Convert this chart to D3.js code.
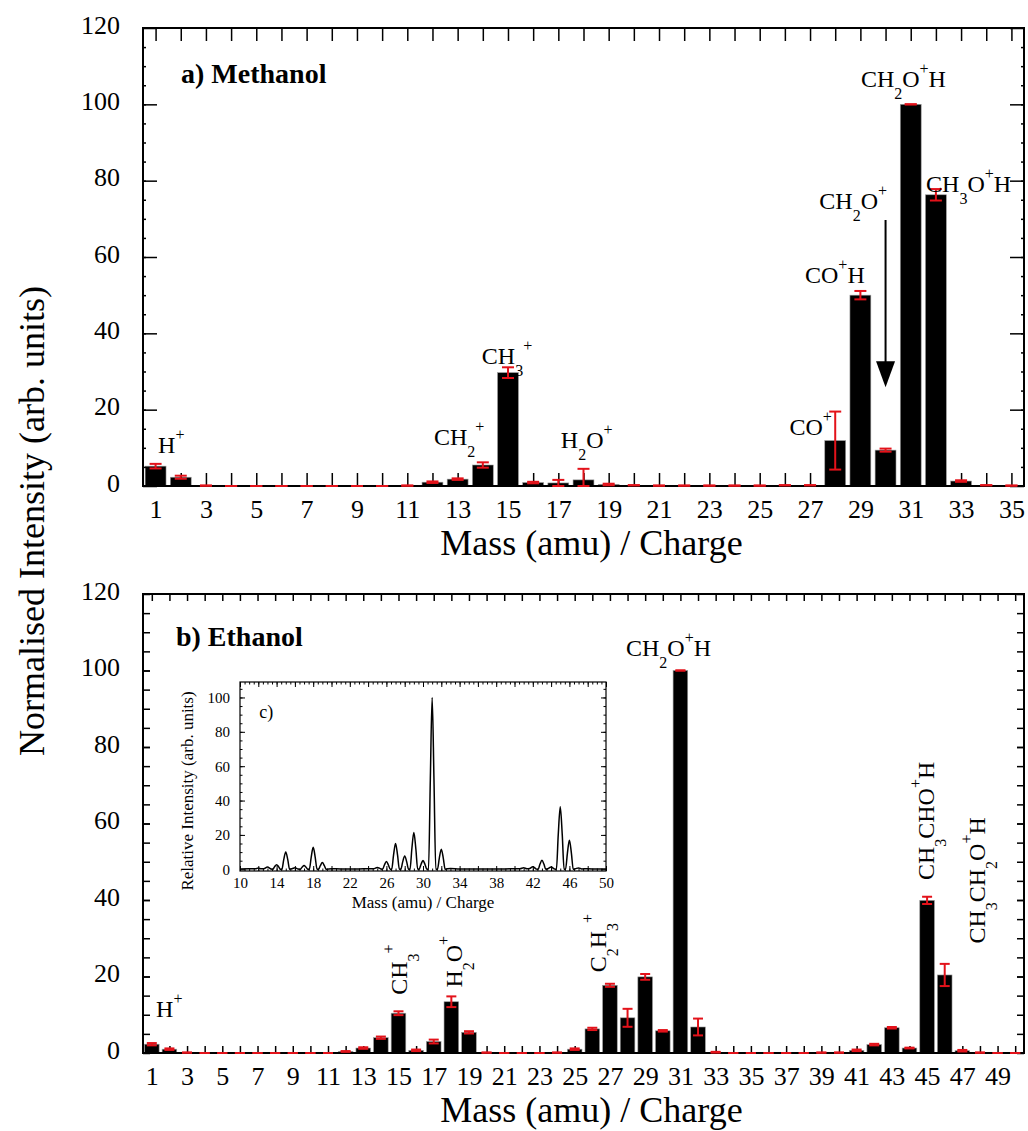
<!DOCTYPE html>
<html>
<head>
<meta charset="utf-8">
<script src="https://cdn.jsdelivr.net/npm/d3@7"></script>
<style>
  body { margin: 0; background: #fff; }
  svg { display: block; }
  text { font-family: "Liberation Serif", "Times New Roman", serif; fill: #000; }
</style>
</head>
<body>
<svg id="chart" width="1028" height="1131"></svg>
<script>
// ---- data ----
var methMass = d3.range(1, 36);
var methIntensity = [5.2, 2.3, 0.1, 0, 0, 0, 0, 0, 0, 0, 0.1, 1.0, 1.8, 5.5, 29.7, 0.9, 0.8, 1.6, 0.4, 0.2,
                     0.1, 0.1, 0.1, 0.1, 0.1, 0.2, 0.2, 11.9, 50.0, 9.4, 100, 76.3, 1.3, 0.2, 0.1];
var methError     = [0.6, 0.4, 0, 0, 0, 0, 0, 0, 0, 0, 0, 0.2, 0.2, 0.7, 1.4, 0.2, 0.8, 2.9, 0.2, 0,
                     0, 0, 0, 0, 0, 0, 0, 7.6, 1.1, 0.4, 0, 1.5, 0.2, 0, 0];

var ethMass = d3.range(1, 51);
var ethIntensity = [2.3, 1.0, 0.1, 0, 0, 0, 0, 0, 0, 0, 0, 0.4, 1.3, 4.0, 10.4, 0.7, 3.0, 13.4, 5.4, 0.1,
                    0, 0, 0, 0.1, 1.0, 6.3, 17.7, 9.2, 19.9, 5.8, 100, 6.8, 0.2, 0, 0, 0, 0, 0, 0.1, 0.1,
                    0.7, 2.2, 6.6, 1.3, 39.9, 20.4, 0.6, 0.1, 0, 0];
var ethError     = [0.3, 0.2, 0, 0, 0, 0, 0, 0, 0, 0, 0, 0.1, 0.2, 0.3, 0.5, 0.2, 0.5, 1.4, 0.3, 0,
                    0, 0, 0, 0, 0.2, 0.3, 0.4, 2.35, 0.75, 0.2, 0, 2.2, 0.1, 0, 0, 0, 0, 0, 0, 0,
                    0.2, 0.2, 0.2, 0.1, 0.95, 2.9, 0.2, 0, 0, 0];

// inset c): raw spectrum trace [mass, relative intensity]
var insetSpectrum = [
  [10,0.2],[11,0.3],[11.7,0.3],[12,0.8],[12.3,0.3],[12.6,0.3],[13,1.3],[13.4,0.2],
  [13.58,0],[13.78,1.5],[14,2.7],[14.22,1.5],[14.42,0],
  [14.58,0],[14.78,5.6],[15,10.1],[15.22,5.6],[15.42,0],
  [15.7,0.3],[16,0.9],[16.35,0.1],
  [16.58,0],[16.78,1.2],[17,2.2],[17.22,1.2],[17.42,0],
  [17.58,0],[17.78,7],[18,12.8],[18.22,7],[18.42,0],
  [18.58,0],[18.78,2.1],[19,3.9],[19.22,2.1],[19.42,0],
  [20,0.3],[21,0.2],[22,0.2],[23,0.2],[24,0.3],
  [24.6,0.3],[25,1.1],[25.4,0.2],
  [25.58,0],[25.78,2.5],[26,4.5],[26.22,2.5],[26.42,0],
  [26.58,0],[26.78,8.2],[27,15],[27.22,8.2],[27.42,0],
  [27.58,0],[27.78,4.3],[28,7.8],[28.22,4.3],[28.42,0],
  [28.58,0],[28.78,11.8],[29,21.4],[29.22,11.8],[29.42,0],
  [29.58,0],[29.78,2.8],[30,5.1],[30.22,2.8],[30.42,0],
  [30.6,0],[30.8,52],[31,100],[31.2,52],[31.4,0],
  [31.58,0],[31.78,6.4],[32,11.7],[32.22,6.4],[32.42,0],
  [33,0.5],[34,0.2],[35,0.2],[36,0.1],[37,0.2],[38,0.2],[39,0.2],[40,0.3],
  [40.6,0.3],[41,0.9],[41.35,0.3],[41.65,0.4],[42,1.5],[42.4,0.1],
  [42.58,0],[42.78,2.9],[43,5.3],[43.22,2.9],[43.42,0],
  [43.65,0.3],[44,1.3],[44.4,0.1],
  [44.58,0],[44.78,20],[45,36.4],[45.22,20],[45.42,0],
  [45.58,0],[45.78,9.3],[46,16.9],[46.22,9.3],[46.42,0],
  [46.65,0.3],[47,0.8],[47.35,0.2],[48,0.3],[49,0.1],[50,0.1]
];

// ion labels: "_x" = subscript, "^x" = superscript; m/v = text anchor in data units
var methLabels = [
  {t: "H^+",      m: 1.1,   v: 8.6,   rot: 0},
  {t: "CH_2^+",   m: 12.06, v: 10.7,  rot: 0},
  {t: "CH_3^+",   m: 13.96, v: 32.0,  rot: 0},
  {t: "H_2O^+",   m: 17.1,  v: 10.0,  rot: 0},
  {t: "CO^+",     m: 26.18, v: 13.4,  rot: 0},
  {t: "CO^+H",    m: 26.8,  v: 53.3,  rot: 0},
  {t: "CH_2O^+",  m: 27.37, v: 72.5,  rot: 0},
  {t: "CH_2O^+H", m: 29.02, v: 104.5, rot: 0},
  {t: "CH_3O^+H", m: 31.61, v: 77.1,  rot: 0}
];
var methArrow = {m: 30, from: 69.7, to: 25.9};

var ethLabels = [
  {t: "H^+",          m: 1.24,  v: 9.5,   rot: 0},
  {t: "CH_3^+",       m: 15.47, v: 15.2,  rot: -90},
  {t: "H_2O^+",       m: 18.59, v: 17.1,  rot: -90},
  {t: "C_2H_3^+",     m: 26.76, v: 21.1,  rot: -90},
  {t: "CH_2O^+H",     m: 27.91, v: 103.9, rot: 0},
  {t: "CH_3CHO^+H",   m: 45.41, v: 45.2,  rot: -90},
  {t: "CH_3CH_2O^+H", m: 48.29, v: 28.6,  rot: -90}
];

var yTickValues = [0, 20, 40, 60, 80, 100, 120];

var svg = d3.select("#chart");
var RED = "#e3121a";

function drawLabel(g, x, y, str, rot) {
  var text = g.append("text")
    .attr("transform", "translate(" + x + "," + y + ") rotate(" + rot + ")")
    .style("font-size", "24px");
  var shift = 0, i = 0;
  while (i < str.length) {
    var kind = "n", s;
    if (str[i] == "_" || str[i] == "^") {
      kind = str[i];
      s = str[i + 1];
      i += 2;
    } else {
      s = "";
      while (i < str.length && str[i] != "_" && str[i] != "^") { s += str[i]; i++; }
    }
    var target = kind == "_" ? 12 : kind == "^" ? -13 : 0;
    var ts = text.append("tspan").attr("dy", target - shift).text(s);
    if (kind != "n") ts.style("font-size", "16px");
    shift = target;
  }
}

function styleAxis(sel, fontSize, width) {
  sel.select(".domain").remove();
  sel.selectAll(".tick line").attr("stroke", "#000").attr("stroke-width", width);
  sel.selectAll(".tick text").style("font-size", fontSize + "px")
    .style("font-family", '"Liberation Serif", "Times New Roman", serif');
}

function drawPanel(p) {
  var g = svg.append("g");
  var x = d3.scaleLinear().domain([0.5, p.mass.length + 0.5]).range([p.left, p.right]);
  var y = d3.scaleLinear().domain([0, 120]).range([p.bottom, p.top]);
  var bw = (x(2) - x(1)) * 0.83;

  // bars
  g.selectAll("rect.bar").data(p.mass).join("rect")
    .attr("class", "bar")
    .attr("x", function(d) { return x(d) - bw / 2; })
    .attr("y", function(d, i) { return y(p.values[i]); })
    .attr("width", bw)
    .attr("height", function(d, i) { return y(0) - y(p.values[i]); })
    .attr("fill", "#000")
    .attr("stroke", function(d, i) { return p.values[i] > 0.3 ? "#9a9a9a" : "none"; })
    .attr("stroke-width", 0.6);

  // axes (ticks point inward)
  var gx = g.append("g").attr("transform", "translate(0," + p.bottom + ")")
    .call(d3.axisBottom(x).tickValues(p.mass).tickSize(-p.xTick).tickPadding(14)
      .tickFormat(function(d) { return d % 2 ? d : ""; }));
  styleAxis(gx, 26, 1.5);
  var gxt = g.append("g").attr("transform", "translate(0," + p.top + ")")
    .call(d3.axisTop(x).tickValues(p.mass).tickSize(-p.xTick).tickFormat(""));
  styleAxis(gxt, 26, 1.5);

  var gyl = g.append("g").attr("transform", "translate(" + p.left + ",0)")
    .call(d3.axisLeft(y).tickValues(yTickValues).tickSize(-p.yMajor).tickPadding(23));
  styleAxis(gyl, 26, 1.5);
  gyl.selectAll(".tick text").attr("dy", "0.2em");
  var gylm = g.append("g").attr("transform", "translate(" + p.left + ",0)")
    .call(d3.axisLeft(y).tickValues(d3.range(5, 120, 5)).tickSize(-p.yMinor).tickFormat(""));
  styleAxis(gylm, 26, 1.5);
  var gyr = g.append("g").attr("transform", "translate(" + p.right + ",0)")
    .call(d3.axisRight(y).tickValues(yTickValues).tickSize(-p.yMajor).tickFormat(""));
  styleAxis(gyr, 26, 1.5);
  var gyrm = g.append("g").attr("transform", "translate(" + p.right + ",0)")
    .call(d3.axisRight(y).tickValues(d3.range(5, 120, 5)).tickSize(-p.yMinor).tickFormat(""));
  styleAxis(gyrm, 26, 1.5);

  g.append("rect")
    .attr("x", p.left).attr("y", p.top)
    .attr("width", p.right - p.left).attr("height", p.bottom - p.top)
    .attr("fill", "none").attr("stroke", "#000").attr("stroke-width", 2);

  // error bars
  var cap = p.cap;
  var eg = g.append("g").attr("stroke", RED).attr("stroke-width", 2);
  p.mass.forEach(function(m, i) {
    var v = p.values[i], e = p.errors[i];
    var lo = y(Math.max(0, v - e)), hi = y(v + e);
    if (e > 0) eg.append("line").attr("x1", x(m)).attr("x2", x(m)).attr("y1", lo).attr("y2", hi);
    eg.append("line").attr("x1", x(m) - cap / 2).attr("x2", x(m) + cap / 2).attr("y1", hi).attr("y2", hi);
    eg.append("line").attr("x1", x(m) - cap / 2).attr("x2", x(m) + cap / 2).attr("y1", lo).attr("y2", lo);
  });

  // titles
  g.append("text")
    .attr("x", (p.left + p.right) / 2 + 8).attr("y", p.titleY)
    .attr("text-anchor", "middle").style("font-size", "36px")
    .text("Mass (amu) / Charge");
  g.append("text")
    .attr("x", x(p.name.m)).attr("y", y(p.name.v))
    .style("font-size", "28px").style("font-weight", "bold")
    .text(p.name.t);

  p.labels.forEach(function(l) { drawLabel(g, x(l.m), y(l.v), l.t, l.rot); });

  return {x: x, y: y, g: g};
}

// ---- panel a) ----
var panelA = drawPanel({
  mass: methMass, values: methIntensity, errors: methError, labels: methLabels,
  name: {t: "a) Methanol", m: 2.01, v: 105.6},
  left: 143, right: 1024, top: 28, bottom: 486,
  xTick: 13, yMajor: 14, yMinor: 3, cap: 12, titleY: 555
});
var ax = panelA.x(methArrow.m), ay0 = panelA.y(methArrow.from), ay1 = panelA.y(methArrow.to);
panelA.g.append("line").attr("x1", ax).attr("x2", ax).attr("y1", ay0).attr("y2", ay1 - 24)
  .attr("stroke", "#000").attr("stroke-width", 2);
panelA.g.append("path")
  .attr("d", "M" + (ax - 9.5) + "," + (ay1 - 26) + "L" + (ax + 9.5) + "," + (ay1 - 26) + "L" + ax + "," + ay1 + "Z")
  .attr("fill", "#000");

// ---- panel b) ----
var panelB = drawPanel({
  mass: ethMass, values: ethIntensity, errors: ethError, labels: ethLabels,
  name: {t: "b) Ethanol", m: 2.37, v: 106.4},
  left: 143, right: 1024, top: 594, bottom: 1053,
  xTick: 7, yMajor: 7, yMinor: 7, cap: 10, titleY: 1122
});

// ---- inset c) ----
var inL = 240, inR = 606, inT = 682, inB = 871;
var ix = d3.scaleLinear().domain([10, 50]).range([inL, inR]);
var iy = d3.scaleLinear().domain([-1, 109]).range([inB, inT]);
var ig = svg.append("g");
ig.append("rect").attr("x", inL).attr("y", inT).attr("width", inR - inL).attr("height", inB - inT).attr("fill", "#fff");

var ixb = ig.append("g").attr("transform", "translate(0," + inB + ")")
  .call(d3.axisBottom(ix).tickValues(d3.range(10, 51, 2)).tickSize(-5).tickPadding(6)
    .tickFormat(function(d) { return (d - 10) % 4 == 0 ? d : ""; }));
styleAxis(ixb, 15, 1);
styleAxis(ig.append("g").attr("transform", "translate(0," + inB + ")")
  .call(d3.axisBottom(ix).tickValues(d3.range(10, 50.5, 0.5)).tickSize(-2.5).tickFormat("")), 15, 1);
styleAxis(ig.append("g").attr("transform", "translate(0," + inT + ")")
  .call(d3.axisTop(ix).tickValues(d3.range(10, 51, 2)).tickSize(-5).tickFormat("")), 15, 1);
styleAxis(ig.append("g").attr("transform", "translate(0," + inT + ")")
  .call(d3.axisTop(ix).tickValues(d3.range(10, 50.5, 0.5)).tickSize(-2.5).tickFormat("")), 15, 1);
var iyl = ig.append("g").attr("transform", "translate(" + inL + ",0)")
  .call(d3.axisLeft(iy).tickValues([0, 20, 40, 60, 80, 100]).tickSize(-5).tickPadding(10));
styleAxis(iyl, 15, 1);
styleAxis(ig.append("g").attr("transform", "translate(" + inL + ",0)")
  .call(d3.axisLeft(iy).tickValues(d3.range(5, 106, 5)).tickSize(-2.5).tickFormat("")), 15, 1);
styleAxis(ig.append("g").attr("transform", "translate(" + inR + ",0)")
  .call(d3.axisRight(iy).tickValues([0, 20, 40, 60, 80, 100]).tickSize(-5).tickFormat("")), 15, 1);
styleAxis(ig.append("g").attr("transform", "translate(" + inR + ",0)")
  .call(d3.axisRight(iy).tickValues(d3.range(5, 106, 5)).tickSize(-2.5).tickFormat("")), 15, 1);

ig.append("path")
  .datum(insetSpectrum)
  .attr("d", d3.line().x(function(d) { return ix(d[0]); }).y(function(d) { return iy(d[1]); }).curve(d3.curveMonotoneX))
  .attr("fill", "none").attr("stroke", "#000").attr("stroke-width", 1.5);

ig.append("rect").attr("x", inL).attr("y", inT).attr("width", inR - inL).attr("height", inB - inT)
  .attr("fill", "none").attr("stroke", "#000").attr("stroke-width", 1.2);

ig.append("text").attr("x", ix(12.1)).attr("y", iy(88)).style("font-size", "18px").text("c)");
ig.append("text").attr("x", (inL + inR) / 2).attr("y", 908).attr("text-anchor", "middle")
  .style("font-size", "17px").text("Mass (amu) / Charge");
ig.append("text").attr("transform", "translate(193,791) rotate(-90)").attr("text-anchor", "middle")
  .style("font-size", "17px").text("Relative Intensity (arb. units)");

// shared y title
svg.append("text")
  .attr("transform", "translate(44,521) rotate(-90)")
  .attr("text-anchor", "middle").style("font-size", "36px")
  .text("Normalised Intensity (arb. units)");
</script>
</body>
</html>
